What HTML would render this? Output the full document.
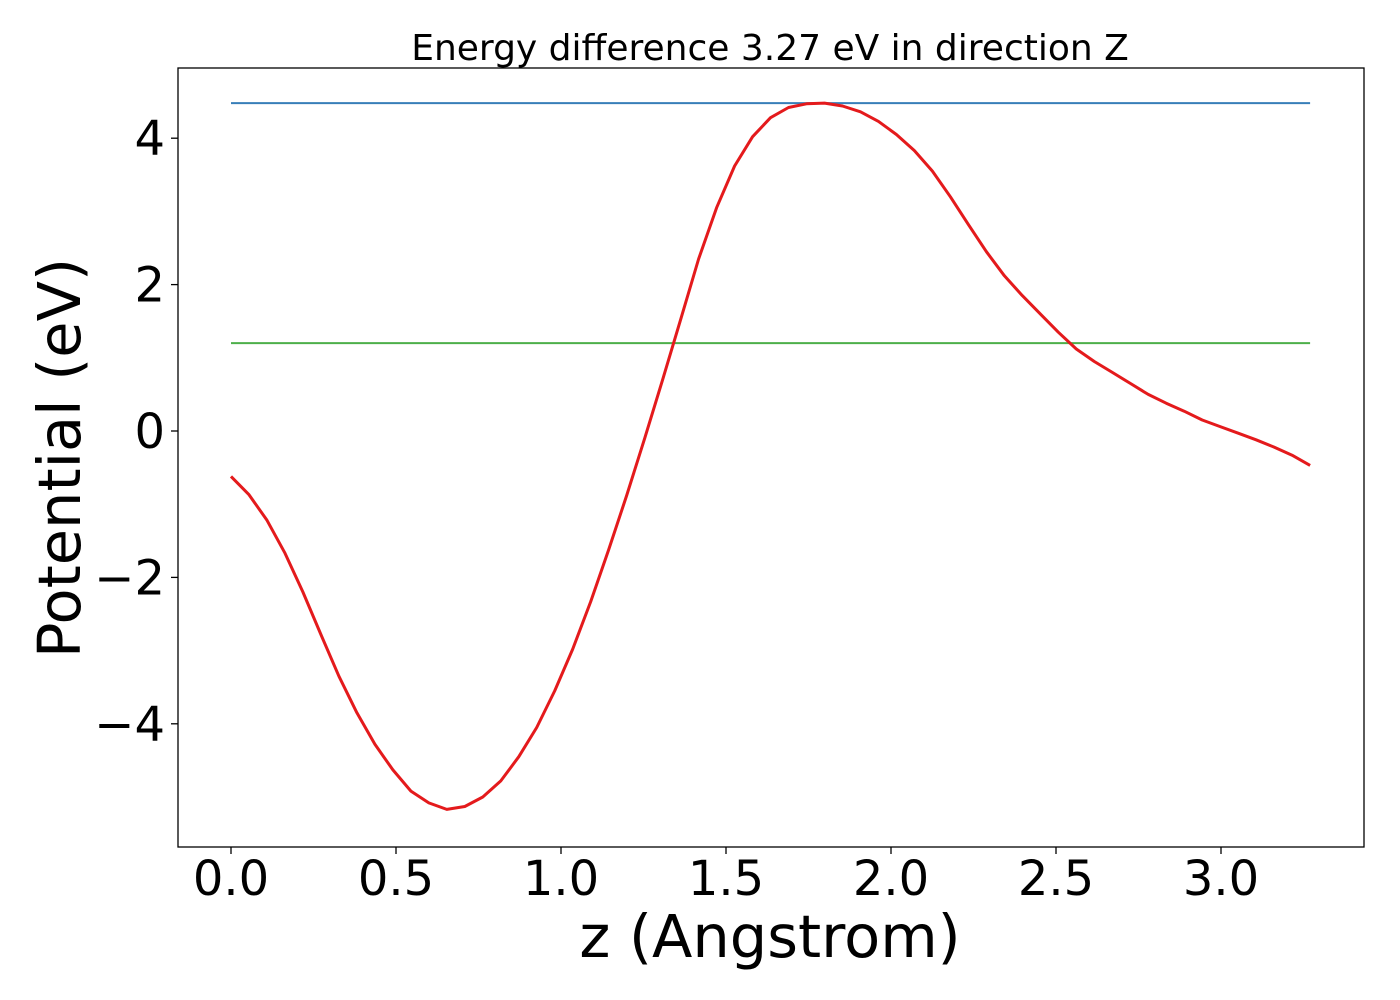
<!DOCTYPE html>
<html><head><meta charset="utf-8"><style>
html,body{margin:0;padding:0;background:#fff;}
svg{display:block;font-family:"DejaVu Sans","Liberation Sans",sans-serif;}
</style></head><body>
<svg id="chart" width="1400" height="1000" viewBox="0 0 1400 1000">
<rect x="0" y="0" width="1400" height="1000" fill="#fff"/>
<text x="770" y="60" font-size="36" text-anchor="middle">Energy difference 3.27 eV in direction Z</text>
<g id="marks"></g>
<rect x="178" y="68" width="1186" height="779" fill="none" stroke="#000" stroke-width="1.3"/>
<g id="axes"></g>
<text x="770" y="957" font-size="59" text-anchor="middle">z (Angstrom)</text>
<text transform="translate(80,458) rotate(-90)" font-size="59" text-anchor="middle">Potential (eV)</text>
</svg>
<script>
const potential = [-0.62,-0.87,-1.22,-1.67,-2.2,-2.78,-3.35,-3.85,-4.28,-4.63,-4.92,-5.08,-5.17,-5.13,-5.0,-4.78,-4.45,-4.05,-3.55,-2.98,-2.33,-1.62,-0.88,-0.1,0.7,1.52,2.35,3.05,3.62,4.02,4.28,4.42,4.47,4.48,4.44,4.36,4.23,4.05,3.83,3.55,3.2,2.82,2.45,2.12,1.85,1.6,1.35,1.12,0.95,0.8,0.65,0.5,0.38,0.27,0.15,0.06,-0.03,-0.12,-0.22,-0.33,-0.47];
const zMax = 3.27;
const vbmLevel = 4.48;
const avgLevel = 1.20;
const xTicks = [0.0,0.5,1.0,1.5,2.0,2.5,3.0];
const xTickLabels = ["0.0","0.5","1.0","1.5","2.0","2.5","3.0"];
const yTicks = [-4,-2,0,2,4];
const yTickLabels = ["\u22124","\u22122","0","2","4"];

const NS = "http://www.w3.org/2000/svg";
function xs(v){ return 231 + v*330; }
function ys(v){ return 431 - v*73.2; }
function mk(tag, attrs, parent){ const e=document.createElementNS(NS,tag); for(const k in attrs) e.setAttribute(k,attrs[k]); parent.appendChild(e); return e; }
const marks=document.getElementById('marks'), axes=document.getElementById('axes');

const n = potential.length;
let hl = mk('line',{x1:xs(0),x2:xs(zMax),y1:ys(vbmLevel),y2:ys(vbmLevel),stroke:'#377eb8','stroke-width':2},marks);


let gl = mk('line',{x1:xs(0),x2:xs(zMax),y1:ys(avgLevel),y2:ys(avgLevel),stroke:'#4daf4a','stroke-width':2},marks);


const pts = potential.map((v,i)=>xs(i*zMax/(n-1)).toFixed(1)+','+ys(v).toFixed(1)).join(' ');
let pl = mk('polyline',{points:pts,fill:'none',stroke:'#e41a1c','stroke-width':3,'stroke-linejoin':'round'},marks);



xTicks.forEach((t,i)=>{
  let tk = mk('line',{x1:xs(t),x2:xs(t),y1:847,y2:854,stroke:'#000','stroke-width':1.3},axes);
  
  
  let tl = mk('text',{x:xs(t),y:895,'font-size':48,'text-anchor':'middle'},axes);
  tl.textContent = xTickLabels[i];
  
  
});
yTicks.forEach((t,i)=>{
  let tk = mk('line',{x1:171,x2:178,y1:ys(t),y2:ys(t),stroke:'#000','stroke-width':1.3},axes);
  
  
  let tl = mk('text',{x:165,y:ys(t)+17,'font-size':48,'text-anchor':'end'},axes);
  tl.textContent = yTickLabels[i];
  
  
});
</script>
</body></html>
